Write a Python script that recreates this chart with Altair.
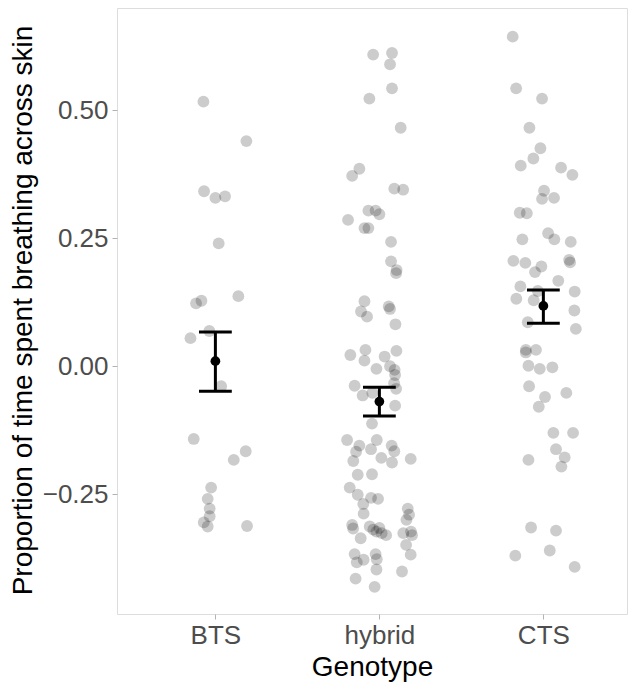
import altair as alt
import pandas as pd

genotypes = ["BTS", "hybrid", "CTS"]

bts_jitter = [-0.073, 0.189, -0.069, 0.0, 0.059, 0.020, 0.140, -0.118, -0.085, -0.152, -0.037,
              0.035, -0.132, 0.185, 0.112, -0.026, -0.047, -0.035, -0.035, -0.071, -0.047, 0.193]
bts_values = [0.517, 0.440, 0.342, 0.329, 0.332, 0.240, 0.137, 0.123, 0.128, 0.055, 0.069,
              -0.039, -0.142, -0.166, -0.183, -0.237, -0.259, -0.278, -0.293, -0.305, -0.313, -0.312]

hyb_jitter = [-0.038, 0.077, 0.065, 0.077, -0.061, 0.130, -0.122, -0.166, 0.091, 0.145,
              -0.067, -0.023, 0.0, -0.191, -0.091, -0.067, 0.071, 0.071, 0.105, 0.102,
              -0.091, -0.112, -0.075, 0.057, 0.065, 0.098, -0.085, -0.177, -0.091, 0.032,
              0.104, -0.018, 0.065, 0.093, 0.096, 0.090, 0.102, -0.151, -0.102, -0.043,
              0.096, -0.045, -0.197, -0.016, -0.122, -0.142, -0.051, 0.075, 0.091, 0.012,
              0.077, 0.191, -0.159, -0.132, -0.045, -0.181, -0.132, -0.051, -0.008, -0.098,
              -0.096, 0.173, 0.165, 0.181, -0.166, -0.160, -0.114, -0.059, -0.037, 0.0,
              0.014, 0.041, -0.018, 0.146, 0.193, 0.199, 0.163, 0.191, -0.151, -0.138,
              -0.096, -0.023, -0.016, -0.018, 0.138, -0.145, -0.029]
hyb_values = [0.609, 0.612, 0.590, 0.543, 0.523, 0.466, 0.386, 0.372, 0.347, 0.345,
              0.304, 0.304, 0.297, 0.286, 0.270, 0.270, 0.243, 0.205, 0.188, 0.182,
              0.127, 0.107, 0.097, 0.117, 0.112, 0.082, 0.032, 0.022, 0.011, 0.019,
              0.030, -0.005, 0.000, -0.007, -0.017, -0.033, -0.044, -0.038, -0.057, -0.052,
              -0.077, -0.112, -0.144, -0.144, -0.155, -0.167, -0.162, -0.155, -0.166, -0.179,
              -0.188, -0.181, -0.185, -0.212, -0.211, -0.237, -0.251, -0.257, -0.259, -0.269,
              -0.288, -0.278, -0.300, -0.290, -0.310, -0.317, -0.336, -0.313, -0.319, -0.316,
              -0.326, -0.330, -0.323, -0.326, -0.323, -0.330, -0.349, -0.368, -0.367, -0.383,
              -0.378, -0.367, -0.377, -0.397, -0.401, -0.415, -0.431]

cts_jitter = [-0.187, -0.166, -0.008, -0.085, -0.018, -0.061, -0.138, 0.108, 0.177, 0.004,
              0.065, -0.008, -0.144, -0.101, -0.128, 0.029, 0.067, 0.167, -0.183, -0.110,
              -0.051, -0.012, 0.157, 0.163, 0.091, -0.140, -0.165, -0.034, -0.059, 0.191,
              0.189, -0.095, 0.198, -0.107, -0.107, -0.045, -0.091, -0.022, 0.055, -0.087,
              0.140, 0.010, -0.028, 0.061, 0.181, 0.077, 0.130, 0.110, -0.091, -0.075,
              0.077, 0.039, -0.171, 0.191]
cts_values = [0.644, 0.543, 0.523, 0.466, 0.426, 0.406, 0.392, 0.388, 0.374, 0.343,
              0.329, 0.327, 0.300, 0.299, 0.248, 0.260, 0.248, 0.243, 0.206, 0.202,
              0.184, 0.195, 0.208, 0.203, 0.167, 0.156, 0.132, 0.147, 0.129, 0.146,
              0.109, 0.086, 0.073, 0.032, 0.027, 0.032, 0.001, -0.005, -0.002, -0.039,
              -0.052, -0.060, -0.079, -0.130, -0.130, -0.162, -0.178, -0.196, -0.183, -0.315,
              -0.321, -0.360, -0.370, -0.392]

group_means = [0.010, -0.069, 0.118]
group_lower = [-0.049, -0.097, 0.084]
group_upper = [0.067, -0.041, 0.149]

rows = []
for i, (jit, vals) in enumerate([(bts_jitter, bts_values), (hyb_jitter, hyb_values), (cts_jitter, cts_values)]):
    for j, v in zip(jit, vals):
        rows.append({"genotype": genotypes[i], "x": i + 1 + j, "y": v})
points_df = pd.DataFrame(rows)

summ_df = pd.DataFrame({
    "genotype": genotypes,
    "x": [1, 2, 3],
    "xl": [0.9, 1.9, 2.9],
    "xr": [1.1, 2.1, 3.1],
    "mean": group_means,
    "lo": group_lower,
    "hi": group_upper,
})

FONT = "Liberation Sans"
label_expr = " : ".join(
    [f"datum.value == {i+1} ? '{g}'" for i, g in enumerate(genotypes[:-1])] + [f"'{genotypes[-1]}'"]
)

xscale = alt.Scale(domain=[0.4, 3.51], nice=False, zero=False)
yscale = alt.Scale(domain=[-0.484, 0.70], nice=False, zero=False)

xaxis = alt.Axis(values=[1, 2, 3], labelExpr=label_expr, title="Genotype", grid=False,
                 domain=False, tickColor="#b3b3b3", tickSize=5, labelPadding=3,
                 labelFontSize=26, labelColor="#4d4d4d", labelFont=FONT,
                 titleFontSize=28, titleFont=FONT, titleFontWeight="normal", titleColor="black",
                 titleBaseline="alphabetic", titleY=61)
yaxis = alt.Axis(values=[-0.25, 0, 0.25, 0.5], format=".2f", title="Proportion of time spent breathing across skin",
                 grid=False, domain=False, tickColor="#b3b3b3", tickSize=5, labelPadding=4,
                 labelFontSize=26, labelColor="#4d4d4d", labelFont=FONT,
                 titleFontSize=28, titleFont=FONT, titleFontWeight="normal", titleColor="black",
                 titleBaseline="alphabetic", titleX=-86, titleY=302)

pts = alt.Chart(points_df).mark_circle(size=140, color="black", opacity=0.2, strokeWidth=0).encode(
    x=alt.X("x:Q", scale=xscale, axis=xaxis),
    y=alt.Y("y:Q", scale=yscale, axis=yaxis),
)

vbar = alt.Chart(summ_df).mark_rule(color="black", strokeWidth=3).encode(
    x=alt.X("x:Q", scale=xscale), y=alt.Y("lo:Q", scale=yscale), y2="hi:Q"
)
cap_lo = alt.Chart(summ_df).mark_rule(color="black", strokeWidth=3).encode(
    x=alt.X("xl:Q", scale=xscale), x2="xr:Q", y=alt.Y("lo:Q", scale=yscale)
)
cap_hi = alt.Chart(summ_df).mark_rule(color="black", strokeWidth=3).encode(
    x=alt.X("xl:Q", scale=xscale), x2="xr:Q", y=alt.Y("hi:Q", scale=yscale)
)
mean_pt = alt.Chart(summ_df).mark_circle(size=95, color="black", opacity=1).encode(
    x=alt.X("x:Q", scale=xscale), y=alt.Y("mean:Q", scale=yscale)
)

chart = alt.layer(pts, vbar, cap_lo, cap_hi, mean_pt).properties(
    width=510, height=606,
    autosize=alt.AutoSizeParams(type="none"),
    padding={"left": 117, "top": 8, "right": 13, "bottom": 69},
).configure_view(stroke="#b3b3b3", strokeWidth=1).configure(background="white")

chart.save("out.html", embed_options={"renderer": "svg", "actions": False})
